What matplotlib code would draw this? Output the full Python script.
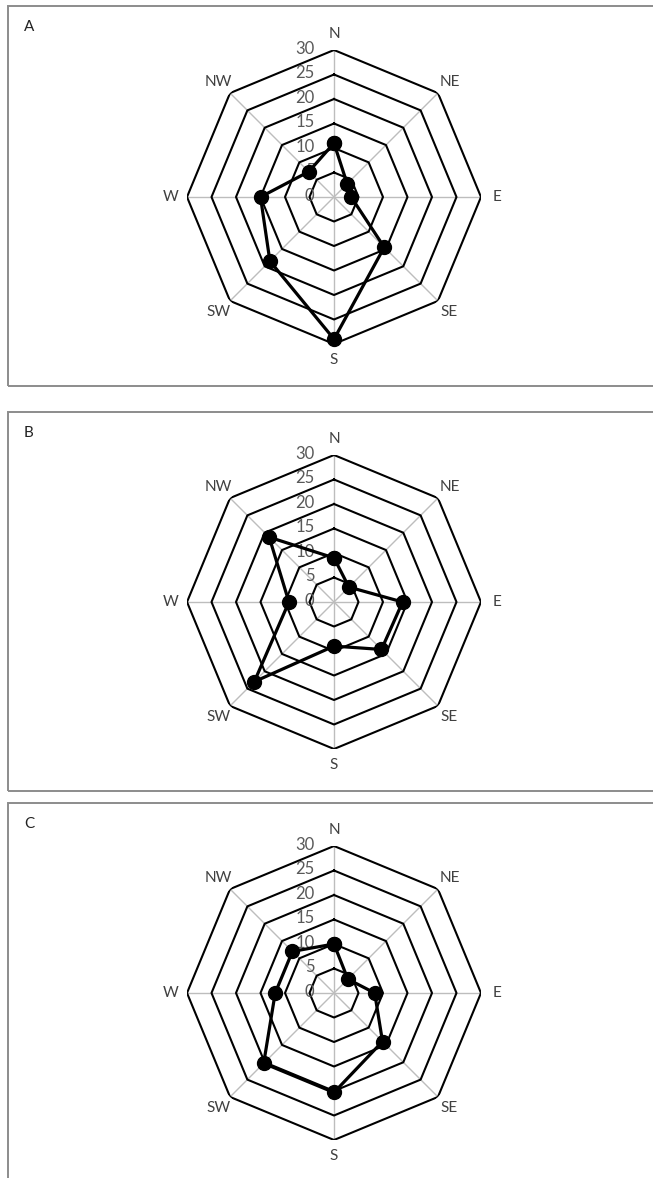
import numpy as np
import matplotlib.pyplot as plt
from matplotlib.patches import Rectangle

plt.rcParams['font.family'] = ['Lato', 'DejaVu Sans']

directions = ["N", "NE", "E", "SE", "S", "SW", "W", "NW"]
ring_levels = [5, 10, 15, 20, 25, 30]
tick_labels = ["0", "5", "10", "15", "20", "25", "30"]

panel_names = ["A", "B", "C"]
values_a = [11, 3.8, 3.5, 14.5, 29, 18.5, 15, 7.3]
values_b = [9, 4.3, 14, 13.7, 9, 23, 9.2, 18.7]
values_c = [10, 4, 8.3, 14, 20.3, 20.3, 12, 12]

W, H = 653, 1178
fig = plt.figure(figsize=(W / 100, H / 100), dpi=100)

# panel boxes in pixels: (top, bottom), and chart centre y
boxes = [(6, 386), (412, 791), (803, 1185)]
centres = [197, 602, 993]
cx = 334
rad = 147

theta = np.deg2rad(np.arange(8) * 45)
theta_closed = np.append(theta, theta[0])

for name, vals, (top, bot), cy in zip(panel_names, [values_a, values_b, values_c], boxes, centres):
    fig.patches.append(Rectangle((8 / W, 1 - bot / H), 1, (bot - top) / H,
                                 transform=fig.transFigure, fill=False,
                                 edgecolor='#8c8c8c', lw=1.4))
    fig.text(24 / W, 1 - (top + 21) / H, name, fontsize=11, color='#222222',
             va='center', ha='left')

    ax = fig.add_axes([(cx - rad) / W, 1 - (cy + rad) / H, 2 * rad / W, 2 * rad / H],
                      projection='polar')
    ax.set_theta_zero_location('N')
    ax.set_theta_direction(-1)
    ax.set_ylim(0, 30)
    ax.axis('off')

    # spokes
    for t in theta:
        ax.plot([t, t], [0, 30], color='#bdbdbd', lw=1.0, zorder=1)
    # octagon rings
    for lv in ring_levels:
        ax.plot(theta_closed, [lv] * 9, color='black', lw=1.5, zorder=2)
    # value labels along N spoke
    for i, lab in enumerate(tick_labels):
        ax.annotate(lab, (0, i * 5), xytext=(-14, 1), textcoords='offset points',
                    ha='right', va='center', fontsize=12, color='#595959', zorder=3)
    # direction labels
    for t, d in zip(theta, directions):
        ax.text(t, 33.3, d, ha='center', va='center', fontsize=11, color='#404040')

    v = list(vals) + [vals[0]]
    ax.plot(theta_closed, v, color='black', lw=2.3, marker='o', markersize=10,
            zorder=5, clip_on=False)

fig.savefig('out.png', dpi=100)
